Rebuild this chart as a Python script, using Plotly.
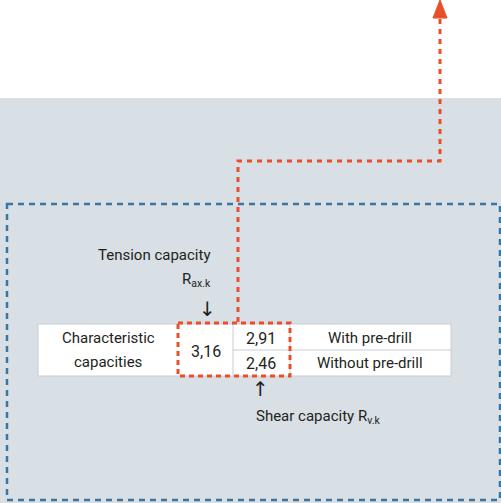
"""
Characteristic capacities diagram (tension / shear) recreated with Plotly shapes.
"""

import plotly.graph_objects as go

# ---------------------------------------------------------------------------
# Data
# ---------------------------------------------------------------------------
row_header = ["Characteristic", "capacities"]
tension_capacity = 3.16
shear_capacities = [2.91, 2.46]
shear_labels = ["With pre-drill", "Without pre-drill"]

TEXT = "#231f20"
GRID = "#c9ced3"
ORANGE = "#e8502a"
BLUE = "#3b76a0"
BG = "#d8dfe5"
FONT = "Roboto, Arial, sans-serif"


def fmt(v):
    return f"{v:.2f}".replace(".", ",")


fig = go.Figure()

shapes = [
    # grey background band
    dict(type="rect", x0=0, x1=501, y0=98, y1=503, fillcolor=BG, line_width=0, layer="below"),
    # blue dashed boundary
    dict(type="rect", x0=7, x1=500, y0=204, y1=500,
         line=dict(color=BLUE, width=2.5, dash="6px,5px"), layer="below"),
    # table cells
    dict(type="rect", x0=38, x1=451, y0=324, y1=376, fillcolor="white",
         line=dict(color=GRID, width=1), layer="below"),
    dict(type="line", x0=233, x1=233, y0=324, y1=376, line=dict(color=GRID, width=1)),
    dict(type="line", x0=290, x1=290, y0=324, y1=376, line=dict(color=GRID, width=1)),
    dict(type="line", x0=233, x1=451, y0=350, y1=350, line=dict(color=GRID, width=1)),
    # orange dashed box and lead line
    dict(type="rect", x0=178, x1=290, y0=323, y1=376,
         line=dict(color=ORANGE, width=3, dash="5px,4px")),
    dict(type="path", path="M 238 322 L 238 161 L 440 161 L 440 18",
         line=dict(color=ORANGE, width=3, dash="5px,5px")),
    dict(type="path", path="M 440 0 L 447 18 L 433 18 Z",
         fillcolor=ORANGE, line=dict(color=ORANGE, width=1)),
]

anns = []


def label(x, y, text, size=15, family=FONT):
    anns.append(dict(x=x, y=y, text=text, showarrow=False, xanchor="center",
                     yanchor="middle", font=dict(size=size, color=TEXT, family=family)))


label(108, 338, row_header[0])
label(108, 362, row_header[1])
label(206, 351, fmt(tension_capacity), 16)
for i, (val, name) in enumerate(zip(shear_capacities, shear_labels)):
    label(261, 338 + i * 25, fmt(val), 16)
    label(370, 338 + i * 25, name)

label(154, 255, "Tension capacity")
label(196, 280, "R<sub>ax.k</sub>")
label(207, 309, "↓", 20, "DejaVu Sans")
label(260, 389, "↑", 20, "DejaVu Sans")
label(318, 417, "Shear capacity R<sub>v.k</sub>")

fig.update_layout(
    width=501,
    height=503,
    margin=dict(l=0, r=0, t=0, b=0),
    paper_bgcolor="white",
    plot_bgcolor="white",
    shapes=shapes,
    annotations=anns,
    showlegend=False,
    xaxis=dict(range=[0, 501], visible=False, fixedrange=True),
    yaxis=dict(range=[503, 0], visible=False, fixedrange=True),
)

fig.write_html("out.html", config={"displayModeBar": False},
               post_script="document.body.style.margin='0';")
